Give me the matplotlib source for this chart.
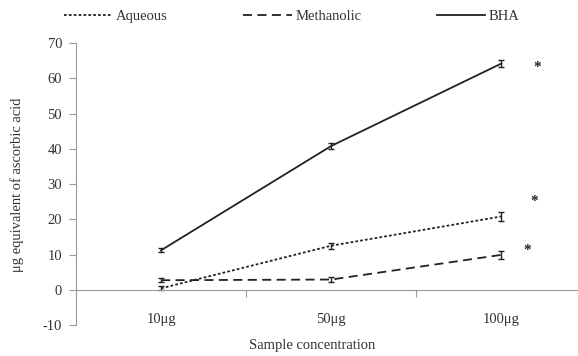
import matplotlib
matplotlib.use("Agg")
import matplotlib.pyplot as plt
from matplotlib.lines import Line2D

categories = ["10μg", "50μg", "100μg"]
aqueous = [0.4, 12.5, 20.8]
methanolic = [2.7, 2.9, 9.9]
bha = [11.2, 40.8, 64.2]
aqueous_err = [0.6, 0.8, 1.2]
methanolic_err = [0.6, 0.8, 1.2]
bha_err = [0.6, 0.9, 1.0]
series_names = ["Aqueous", "Methanolic", "BHA"]
yticks = [-10, 0, 10, 20, 30, 40, 50, 60, 70]

plt.rcParams['font.family'] = ['Liberation Serif', 'DejaVu Serif']
plt.rcParams['axes.unicode_minus'] = False
txt = '#333333'

fig = plt.figure(figsize=(5.78, 3.56), dpi=100)
ax = fig.add_axes([0.1315, 0.0871, 0.8685, 0.792])

xs = [i + 0.5 for i in range(len(categories))]
col = '#222222'
styles = [(0, (1.5, 1.2)), (0, (5, 3)), '-']
for vals, errs, ls, name in zip([aqueous, methanolic, bha],
                                [aqueous_err, methanolic_err, bha_err],
                                styles, series_names):
    ax.errorbar(xs, vals, yerr=errs, color=col, lw=1.3, ls=ls,
                capsize=2.5, elinewidth=1, label=name)

# significance markers
for xx, yy in [(2.71, 63), (2.69, 25), (2.65, 11)]:
    ax.text(xx, yy, "*", ha='center', va='center', fontsize=11, color=col, fontweight='bold')

ax.set_xlim(0, 2.95)
ax.set_ylim(-10, 70)
ax.set_yticks(yticks)
ax.tick_params(axis='y', direction='out', length=5, color='#999999', labelsize=10.5,
               labelcolor=txt, pad=5)

for s in ['top', 'right']:
    ax.spines[s].set_visible(False)
ax.spines['left'].set_color('#999999')
ax.spines['bottom'].set_position(('data', 0))
ax.spines['bottom'].set_color('#999999')

ax.set_xticks([1, 2])
ax.set_xticklabels([])
ax.tick_params(axis='x', which='major', direction='out', length=5, color='#999999')
ax.set_xticks(xs, minor=True)
ax.set_xticklabels(categories, minor=True)
ax.tick_params(axis='x', which='minor', length=0, pad=17, labelsize=10.5, labelcolor=txt)

fig.text(0.54, 0.012, "Sample concentration", ha='center', va='bottom', fontsize=10.5, color=txt)
fig.text(0.03, 0.48, "μg equivalent of ascorbic acid", rotation=90, ha='center', va='center',
         fontsize=10.5, color=txt)

handles = [Line2D([], [], color=col, lw=1.3, ls=ls) for ls in styles]
fig.legend(handles=handles, labels=series_names, loc='upper center',
           bbox_to_anchor=(0.505, 1.01), ncol=3, frameon=False, fontsize=10.5,
           columnspacing=5.2, handlelength=3.3, handletextpad=0.25, labelcolor=txt)

fig.savefig("out.png", dpi=100)
